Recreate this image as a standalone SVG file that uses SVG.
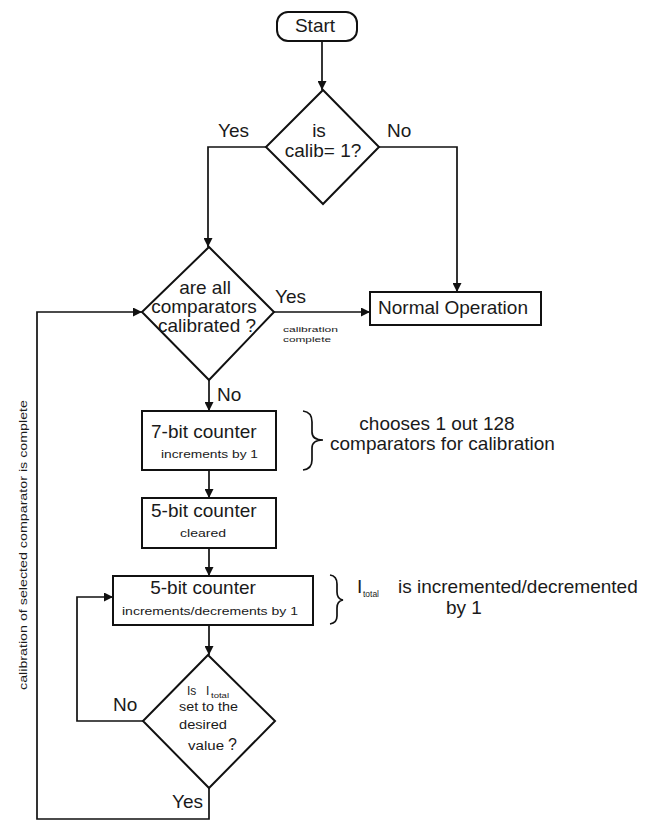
<svg xmlns="http://www.w3.org/2000/svg" width="654" height="821" viewBox="0 0 654 821">
<style>
text{font-family:"Liberation Sans",Arial,sans-serif;fill:#1a1a1a}
.m{font-size:19px}
.s{font-size:11px}
.c{text-anchor:middle}
.shape{fill:#fff;stroke:#111;stroke-width:2}
.ln{fill:none;stroke:#111;stroke-width:1.7}
</style>
<defs>
<marker id="ah" viewBox="0 0 10 10" refX="10" refY="5" markerWidth="9" markerHeight="9" markerUnits="userSpaceOnUse" orient="auto">
<path d="M0,0 L10,5 L0,10 z" fill="#111"/>
</marker>
</defs>
<rect width="654" height="821" fill="#fff"/>

<g id="connectors">
<path class="ln" d="M322,41 V90" marker-end="url(#ah)"/>
<path class="ln" d="M266,147 H208 V247" marker-end="url(#ah)"/>
<path class="ln" d="M379,147 H457 V292" marker-end="url(#ah)"/>
<path class="ln" d="M274,312 H370" marker-end="url(#ah)"/>
<path class="ln" d="M209,380 V411" marker-end="url(#ah)"/>
<path class="ln" d="M209,470 V498" marker-end="url(#ah)"/>
<path class="ln" d="M209,548 V576" marker-end="url(#ah)"/>
<path class="ln" d="M209,625 V655" marker-end="url(#ah)"/>
<path class="ln" d="M143,721 H77 V597 H113" marker-end="url(#ah)"/>
<path class="ln" d="M209,788 V819 H37 V312 H142" marker-end="url(#ah)"/>
<text class="m" x="218" y="137">Yes</text>
<text class="m" x="387" y="137">No</text>
<text class="m" x="275" y="303">Yes</text>
<text x="283" y="332" font-size="8" textLength="55" lengthAdjust="spacingAndGlyphs">calibration</text>
<text x="283" y="342" font-size="8" textLength="48" lengthAdjust="spacingAndGlyphs">complete</text>
<text class="m" x="217" y="401">No</text>
<text class="m" x="113" y="711">No</text>
<text class="m" x="172" y="808">Yes</text>
<text class="s" transform="translate(27,690) rotate(-90)" x="0" y="0" textLength="290" lengthAdjust="spacingAndGlyphs">calibration of selected comparator is complete</text>
</g>

<g id="start">
<rect class="shape" x="277" y="12" width="80" height="29" rx="11"/>
<text class="m c" x="315" y="32">Start</text>
</g>

<g id="calib-decision">
<polygon class="shape" points="323,90 379,147 323,204 266,147"/>
<text class="m c" x="319" y="137">is</text>
<text class="m c" x="323" y="157">calib= 1?</text>
</g>

<g id="all-calibrated-decision">
<polygon class="shape" points="209,247 274,312 209,380 142,312"/>
<text class="m c" x="205" y="294">are all</text>
<text class="m c" x="204" y="313">comparators</text>
<text class="m c" x="207" y="332">calibrated ?</text>
</g>

<g id="normal-operation">
<rect class="shape" x="370" y="292" width="171" height="33"/>
<text class="m c" x="453" y="314">Normal Operation</text>
</g>

<g id="seven-bit-counter">
<rect class="shape" x="142" y="411" width="134" height="59"/>
<text class="m" x="151" y="438">7-bit counter</text>
<text class="s" x="161" y="458" textLength="97" lengthAdjust="spacingAndGlyphs">increments by 1</text>
</g>

<g id="note-choose">
<path class="ln" d="M303,411 Q312,412 312,422 V432 Q312,440 323,440 Q312,440 312,448 V460 Q312,469 303,470"/>
<text class="m c" x="437" y="430">chooses 1 out 128</text>
<text class="m" x="330" y="450">comparators for calibration</text>
</g>

<g id="five-bit-cleared">
<rect class="shape" x="142" y="498" width="134" height="50"/>
<text class="m" x="151" y="517">5-bit counter</text>
<text class="s" x="180" y="537" textLength="46" lengthAdjust="spacingAndGlyphs">cleared</text>
</g>

<g id="five-bit-incdec">
<rect class="shape" x="113" y="576" width="200" height="49"/>
<text class="m c" x="203" y="594">5-bit counter</text>
<text class="s" x="122" y="615" textLength="176" lengthAdjust="spacingAndGlyphs">increments/decrements by 1</text>
</g>

<g id="note-itotal">
<path class="ln" d="M330,575 Q337,576 337,584 V592 Q337,599 343,600 Q337,601 337,608 V616 Q337,623 330,624"/>
<text class="m" x="357" y="593">I</text>
<text x="363" y="597" font-size="9" textLength="16" lengthAdjust="spacingAndGlyphs">total</text>
<text class="m" x="398" y="593">is incremented/decremented</text>
<text class="m" x="446" y="614">by 1</text>
</g>

<g id="itotal-decision">
<polygon class="shape" points="208,655 275,721 209,788 143,721"/>
<text x="187" y="695" font-size="12">Is</text>
<text x="206" y="695" font-size="12">I</text>
<text x="211" y="698" font-size="7" textLength="18" lengthAdjust="spacingAndGlyphs">total</text>
<text x="179" y="711" font-size="12" textLength="59" lengthAdjust="spacingAndGlyphs">set to the</text>
<text x="179" y="729" font-size="12" textLength="48" lengthAdjust="spacingAndGlyphs">desired</text>
<text x="188" y="750" font-size="12" textLength="36" lengthAdjust="spacingAndGlyphs">value</text>
<text x="228" y="750" font-size="16">?</text>
</g>
</svg>
